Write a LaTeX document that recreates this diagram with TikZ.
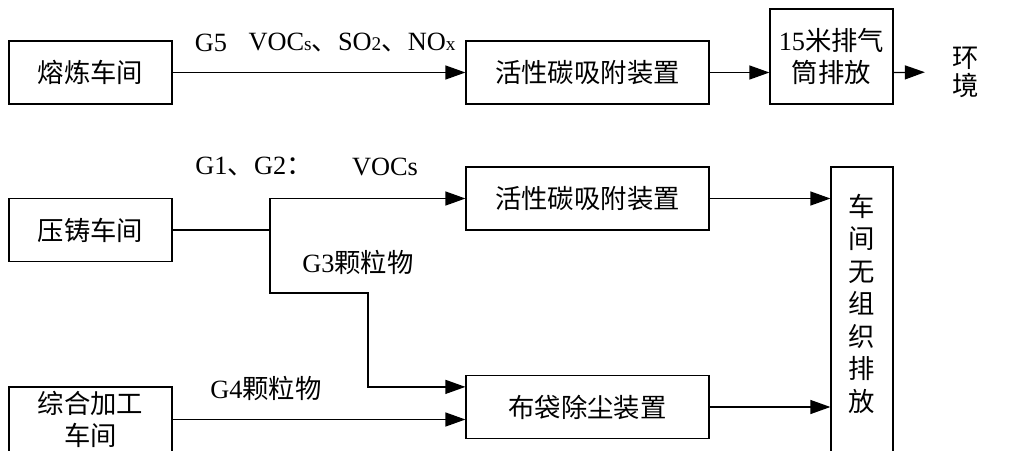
\documentclass[tikz,border=0pt]{standalone}
\usepackage{fontspec}
\setmainfont{Noto Sans CJK SC}
\newfontfamily\latin{Liberation Serif}
\usetikzlibrary{arrows.meta}
\newcommand\sm[1]{{\fontsize{11}{11}\selectfont #1}}

\begin{document}
\begin{tikzpicture}[x=0.02cm,y=-0.02cm,line width=0.7pt,
  font=\fontsize{15}{18.5}\selectfont,
  box/.style={draw,inner sep=0pt,align=center},
  shopbox/.style={box,minimum width=3.26cm,minimum height=1.26cm},
  unitbox/.style={box,minimum width=4.86cm,minimum height=1.26cm},
  arr/.style={-{Triangle[length=0.4cm,width=0.28cm]}}]
  \useasboundingbox (0,0) rectangle (1010,450);
  % upper line
  \node[shopbox] (melt) at (90.5,72.5) {熔炼车间};
  \node[unitbox] (carbonA) at (587.5,72.5) {活性碳吸附装置};
  \node[box,minimum width=2.46cm,minimum height=1.9cm] (stack) at (831.5,56.5) {{\latin 15}米排气\\筒排放};
  \node[align=center,font=\fontsize{15}{16}\selectfont] (env) at (966,72) {环\\境};
  \node (g5) at (211,43) {\latin G5};
  \node (g5gas) at (352,43) {{\latin VOC\sm{s}}、{\latin SO\sm{2}}、{\latin NO\sm{x}}};
  \draw[arr] (melt) -- (carbonA);
  \draw[arr] (carbonA) -- (carbonA -| stack.west);
  \draw[arr,shorten >=0.43cm] (carbonA -| stack.east) -- (env.west);
  % lower lines
  \node[shopbox] (die) at (90.5,230) {压铸车间};
  \node[box,minimum width=3.26cm,minimum height=1.3cm] (machining) at (90.5,419.5) {综合加工\\车间};
  \node[unitbox] (carbonB) at (587.5,198.5) {活性碳吸附装置};
  \node[unitbox] (bag) at (587.5,407) {布袋除尘装置};
  \node[box,minimum width=1.24cm,minimum height=6.26cm] (fugitive) at (862,323.5) {车\\间\\无\\组\\织\\排\\放\\ \strut};
  \node (g12) at (254,167) {{\latin G1}、{\latin G2}：};
  \node (g12gas) at (385,167) {\latin VOCs};
  \node (g3) at (358,262) {{\latin G3}颗粒物};
  \node (g4) at (266,388) {{\latin G4}颗粒物};
  \coordinate (split) at (270,230);
  \coordinate (bend) at (368,293);
  \draw (die) -- (split);
  \draw[arr] (split) |- (carbonB);
  \draw[arr] (split) |- (bend) |- ([yshift=-0.24cm]bag.north west);
  \draw[arr] (machining) -- (machining -| bag.west);
  \draw[arr] (carbonB) -- (carbonB -| fugitive.west);
  \draw[arr] (bag) -- (bag -| fugitive.west);
\end{tikzpicture}
\end{document}
